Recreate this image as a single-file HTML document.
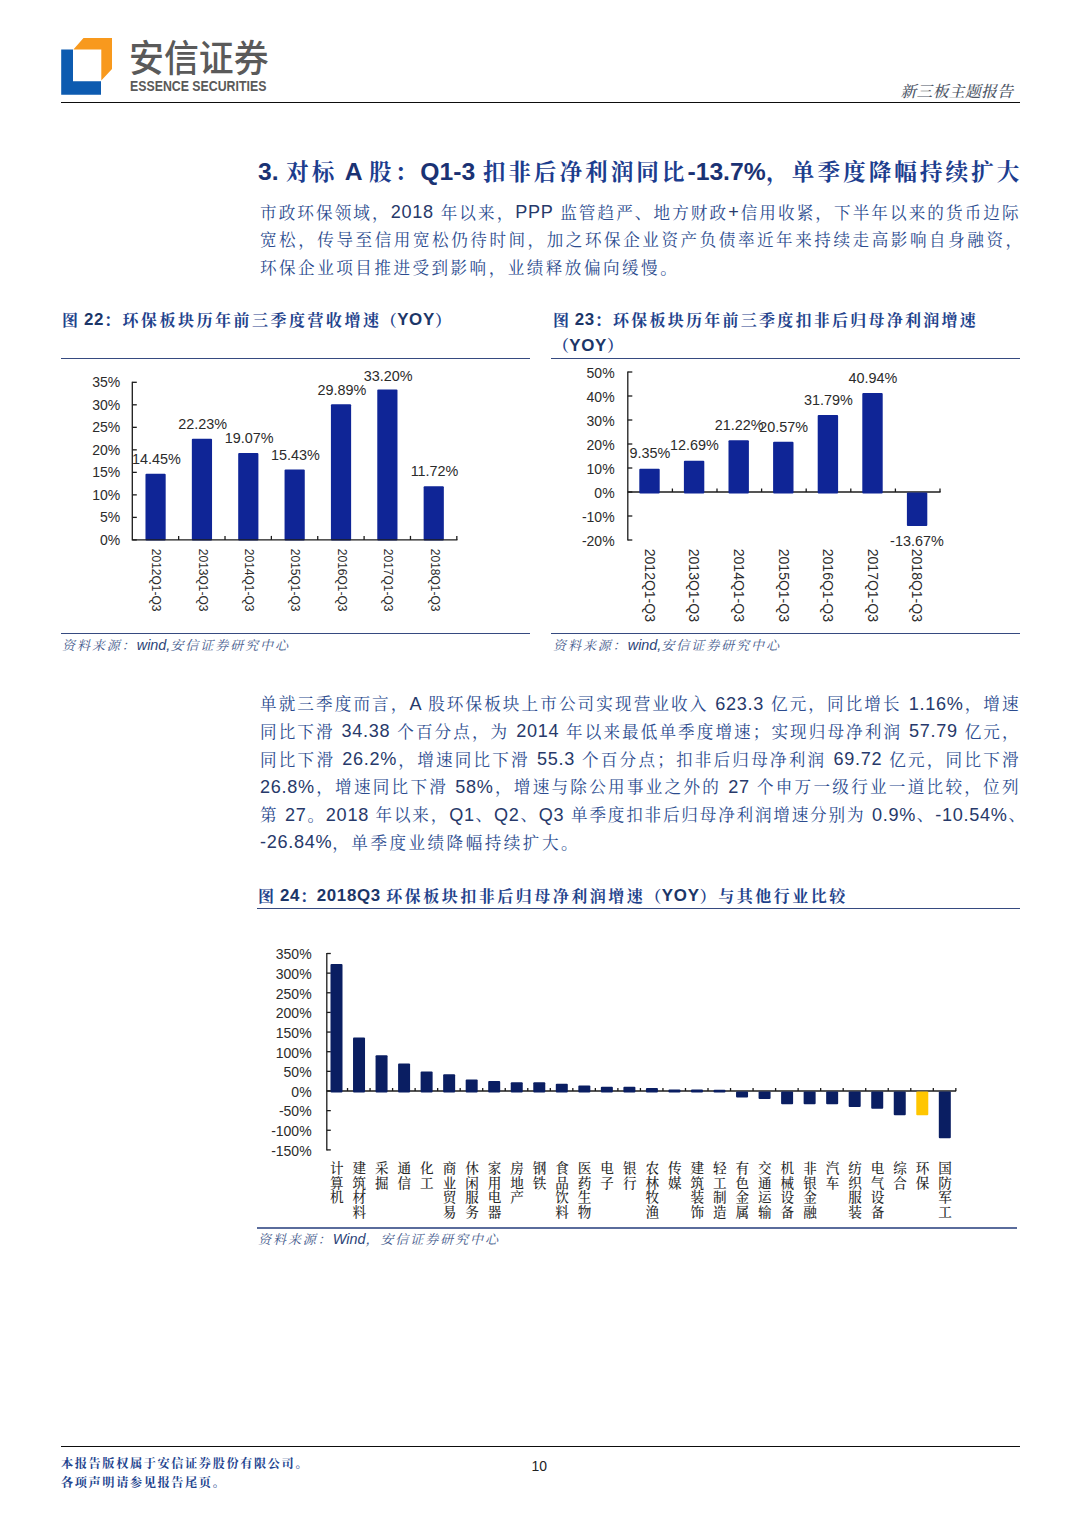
<!DOCTYPE html>
<html lang="zh-CN">
<head>
<meta charset="utf-8">
<title>新三板主题报告</title>
<style>
html,body{margin:0;padding:0;background:#fff;}
body{width:1080px;height:1527px;position:relative;overflow:hidden;-webkit-font-smoothing:antialiased;font-family:"Liberation Sans","Noto Serif CJK SC",serif;color:#2f5597;}
.abs{position:absolute;white-space:nowrap;}
.hline{position:absolute;height:1px;background:#364a80;}
.kai{font-family:"Liberation Sans","Noto Serif CJK SC",serif;}
.l{letter-spacing:0;}
/* header */
#logo{position:absolute;left:0;top:0;}
#brand-cn{left:129px;top:32px;font-size:34.9px;line-height:50px;color:#5a5a5a;font-family:"Noto Sans CJK SC",sans-serif;font-weight:500;transform-origin:0 42.5px;transform:scaleY(1.06);}
#brand-en{left:130.3px;top:76.2px;font-size:14.6px;line-height:20px;color:#5a5a5a;font-weight:700;transform-origin:0 0;transform:scaleX(0.845);}
#topline{position:absolute;left:61px;top:102px;width:959px;height:1px;background:#0d0d0d;}
#rpt{right:66.6px;top:81.6px;font-size:15.8px;letter-spacing:0.35px;line-height:20px;color:#4d5666;font-style:italic;font-weight:500;}
/* title + paragraphs */
#title{left:258px;top:155px;width:763.6px;height:34px;font-size:22.6px;letter-spacing:2.4px;line-height:34px;font-weight:700;color:#1c3d8e;text-align:justify;text-align-last:justify;}
#title .l{font-size:24.7px;position:relative;top:-0.4px;color:#1a3273;}
.para{position:absolute;left:260px;width:759.5px;font-size:16.6px;letter-spacing:0.9px;line-height:27.7px;color:#2b4b8e;font-weight:400;}
.para .l{font-size:18.1px;font-weight:400;letter-spacing:0.7px;color:#27396a;position:relative;top:-0.6px;}
.para div{text-align:justify;text-align-last:justify;white-space:nowrap;height:27.7px;}
.para div.last{text-align-last:left;letter-spacing:2.46px;}
.cap{font-size:16px;letter-spacing:2.5px;line-height:25.5px;font-weight:700;color:#1f438c;white-space:normal;}
.cap .l{font-size:16.9px;letter-spacing:0.7px;margin-left:-2px;position:relative;top:-0.8px;color:#1c3668;}
.src{font-size:13px;letter-spacing:1.95px;line-height:18px;font-style:italic;color:#445a8c;}
.src .l{font-size:14.4px;color:#2c4478;}
/* footer */
#botline{position:absolute;left:61px;top:1446px;width:959px;height:1px;background:#0d0d0d;}
#foot{left:61px;top:1454.9px;font-size:12.2px;letter-spacing:1.6px;line-height:19px;font-weight:700;color:#22438e;white-space:normal;}
#pageno{left:531.6px;top:1458.3px;font-size:13.9px;line-height:16px;color:#222;}
svg text{font-family:"Liberation Sans","Noto Sans CJK SC",sans-serif;}
svg text.song{font-family:"Liberation Serif","Noto Serif CJK SC",serif;}
</style>
</head>
<body>

<!-- ===== header ===== -->
<svg id="logo" width="130" height="110" viewBox="0 0 130 110">
  <polygon points="61.2,49.4 73,49.4 73,81.2 101,81.2 101,94.8 61.2,94.8" fill="#0d5bb0"/>
  <polygon points="83.5,38.1 112,38.1 112,68.9 101.3,80.4 101.3,49.4 73.4,49.4" fill="#f8991d"/>
</svg>
<div class="abs" id="brand-cn">安信证券</div>
<div class="abs" id="brand-en">ESSENCE SECURITIES</div>
<div class="abs kai" id="rpt">新三板主题报告</div>
<div id="topline"></div>

<!-- ===== title ===== -->
<div class="abs kai" id="title"><span class="l">3. </span>对标<span class="l"> A </span>股：<span class="l">Q1-3 </span>扣非后净利润同比<span class="l">-13.7%</span>，单季度降幅持续扩大</div>

<!-- ===== paragraph 1 ===== -->
<div class="para kai" id="p1" style="top:199.5px;">
<div>市政环保领域，<span class="l">2018 </span>年以来，<span class="l">PPP </span>监管趋严、地方财政<span class="l">+</span>信用收紧，下半年以来的货币边际</div>
<div style="width:763px;">宽松，传导至信用宽松仍待时间，加之环保企业资产负债率近年来持续走高影响自身融资，</div>
<div class="last">环保企业项目推进受到影响，业绩释放偏向缓慢。</div>
</div>

<!-- ===== fig 22 ===== -->
<div class="abs kai cap" id="cap22" style="left:62px;top:307.8px;width:470px;">图<span class="l"> 22</span>：环保板块历年前三季度营收增速<span style="margin-left:-1px;">（</span><span class="l">YOY</span>）</div>
<div class="hline" style="left:61px;top:358px;width:469px;"></div>
<svg class="abs" style="left:62px;top:360px;" width="470" height="270" viewBox="62 360 470 270">
<rect x="145.48" y="473.83" width="20.2" height="66.67" rx="1" fill="#0f2596"/>
<rect x="191.84" y="438.8" width="20.2" height="101.7" rx="1" fill="#0f2596"/>
<rect x="238.2" y="453.03" width="20.2" height="87.47" rx="1" fill="#0f2596"/>
<rect x="284.56" y="469.42" width="20.2" height="71.08" rx="1" fill="#0f2596"/>
<rect x="330.92" y="404.31" width="20.2" height="136.19" rx="1" fill="#0f2596"/>
<rect x="377.28" y="389.41" width="20.2" height="151.09" rx="1" fill="#0f2596"/>
<rect x="423.64" y="486.13" width="20.2" height="54.37" rx="1" fill="#0f2596"/>
<g stroke="#1c1c1c" stroke-width="1.3" fill="none">
<path d="M132.3 381.7 V539.9 H457.42"/>
<path d="M132.3 539.9 h4.5"/>
<path d="M132.3 517.39 h4.5"/>
<path d="M132.3 494.87 h4.5"/>
<path d="M132.3 472.36 h4.5"/>
<path d="M132.3 449.84 h4.5"/>
<path d="M132.3 427.33 h4.5"/>
<path d="M132.3 404.81 h4.5"/>
<path d="M132.3 382.3 h4.5"/>
<path d="M178.66 539.9 v-4"/>
<path d="M225.02 539.9 v-4"/>
<path d="M271.38 539.9 v-4"/>
<path d="M317.74 539.9 v-4"/>
<path d="M364.1 539.9 v-4"/>
<path d="M410.46 539.9 v-4"/>
<path d="M456.82 539.9 v-4"/>
</g>
<g font-size="14" fill="#2b2b2b" text-anchor="end">
<text x="120.3" y="544.9">0%</text>
<text x="120.3" y="522.39">5%</text>
<text x="120.3" y="499.87">10%</text>
<text x="120.3" y="477.36">15%</text>
<text x="120.3" y="454.84">20%</text>
<text x="120.3" y="432.33">25%</text>
<text x="120.3" y="409.81">30%</text>
<text x="120.3" y="387.3">35%</text>
</g>
<g font-size="14.4" fill="#2b2b2b" text-anchor="middle">
<text x="156.38" y="464.03">14.45%</text>
<text x="202.74" y="429">22.23%</text>
<text x="249.1" y="443.23">19.07%</text>
<text x="295.46" y="459.62">15.43%</text>
<text x="341.82" y="394.51">29.89%</text>
<text x="388.18" y="380.81">33.20%</text>
<text x="434.54" y="476.33">11.72%</text>
</g>
<g font-size="12" fill="#2b2b2b">
<text transform="translate(152.38 548.8) rotate(90)">2012Q1-Q3</text>
<text transform="translate(198.74 548.8) rotate(90)">2013Q1-Q3</text>
<text transform="translate(245.1 548.8) rotate(90)">2014Q1-Q3</text>
<text transform="translate(291.46 548.8) rotate(90)">2015Q1-Q3</text>
<text transform="translate(337.82 548.8) rotate(90)">2016Q1-Q3</text>
<text transform="translate(384.18 548.8) rotate(90)">2017Q1-Q3</text>
<text transform="translate(430.54 548.8) rotate(90)">2018Q1-Q3</text>
</g>
</svg>
<div class="hline" style="left:61px;top:633px;width:469px;"></div>
<div class="abs kai src" style="left:62px;top:636px;">资料来源：<span class="l">wind,</span>安信证券研究中心</div>

<!-- ===== fig 23 ===== -->
<div class="abs kai cap" id="cap23" style="left:553px;top:307.8px;width:480px;letter-spacing:2.25px;">图<span class="l"> 23</span>：环保板块历年前三季度扣非后归母净利润增速<br>（<span class="l">YOY</span>）</div>
<div class="hline" style="left:551px;top:358px;width:469px;"></div>
<svg class="abs" style="left:553px;top:360px;" width="470" height="270" viewBox="553 360 470 270">
<g stroke="#1c1c1c" stroke-width="1.3" fill="none">
<path d="M627.8 371.4 V540.6"/>
<path d="M627.8 492 H940.6"/>
<path d="M627.8 540 h4.5"/>
<path d="M627.8 516 h4.5"/>
<path d="M627.8 492 h4.5"/>
<path d="M627.8 468 h4.5"/>
<path d="M627.8 444 h4.5"/>
<path d="M627.8 420 h4.5"/>
<path d="M627.8 396 h4.5"/>
<path d="M627.8 372 h4.5"/>
<path d="M672.4 492 v-3.5"/>
<path d="M717 492 v-3.5"/>
<path d="M761.6 492 v-3.5"/>
<path d="M806.2 492 v-3.5"/>
<path d="M850.8 492 v-3.5"/>
<path d="M895.4 492 v-3.5"/>
<path d="M940 492 v-3.5"/>
</g>
<rect x="639.3" y="468.76" width="20.4" height="24.84" rx="1" fill="#0f2596"/>
<rect x="683.9" y="460.74" width="20.4" height="32.86" rx="1" fill="#0f2596"/>
<rect x="728.5" y="440.27" width="20.4" height="53.33" rx="1" fill="#0f2596"/>
<rect x="773.1" y="441.83" width="20.4" height="51.77" rx="1" fill="#0f2596"/>
<rect x="817.7" y="414.9" width="20.4" height="78.7" rx="1" fill="#0f2596"/>
<rect x="862.3" y="392.94" width="20.4" height="100.66" rx="1" fill="#0f2596"/>
<rect x="906.9" y="492.6" width="20.4" height="33.41" rx="1" fill="#0f2596"/>
<g font-size="14" fill="#2b2b2b" text-anchor="end">
<text x="614.6" y="545.9">-20%</text>
<text x="614.6" y="521.9">-10%</text>
<text x="614.6" y="497.9">0%</text>
<text x="614.6" y="473.9">10%</text>
<text x="614.6" y="449.9">20%</text>
<text x="614.6" y="425.9">30%</text>
<text x="614.6" y="401.9">40%</text>
<text x="614.6" y="377.9">50%</text>
</g>
<g font-size="14.4" fill="#2b2b2b" text-anchor="middle">
<text x="649.9" y="458.46">9.35%</text>
<text x="694.5" y="450.44">12.69%</text>
<text x="739.1" y="429.97">21.22%</text>
<text x="783.7" y="431.53">20.57%</text>
<text x="828.3" y="404.6">31.79%</text>
<text x="872.9" y="382.64">40.94%</text>
<text x="916.9" y="545.8">-13.67%</text>
</g>
<g font-size="14" fill="#2b2b2b">
<text transform="translate(644.8 548.8) rotate(90)">2012Q1-Q3</text>
<text transform="translate(689.4 548.8) rotate(90)">2013Q1-Q3</text>
<text transform="translate(734 548.8) rotate(90)">2014Q1-Q3</text>
<text transform="translate(778.6 548.8) rotate(90)">2015Q1-Q3</text>
<text transform="translate(823.2 548.8) rotate(90)">2016Q1-Q3</text>
<text transform="translate(867.8 548.8) rotate(90)">2017Q1-Q3</text>
<text transform="translate(912.4 548.8) rotate(90)">2018Q1-Q3</text>
</g>
</svg>
<div class="hline" style="left:551px;top:633px;width:469px;"></div>
<div class="abs kai src" style="left:553px;top:636px;">资料来源：<span class="l">wind,</span>安信证券研究中心</div>

<!-- ===== paragraph 2 ===== -->
<div class="para kai" id="p2" style="top:691.4px;">
<div>单就三季度而言，<span class="l">A </span>股环保板块上市公司实现营业收入<span class="l"> 623.3 </span>亿元，同比增长<span class="l"> 1.16%</span>，增速</div>
<div>同比下滑<span class="l"> 34.38 </span>个百分点，为<span class="l"> 2014 </span>年以来最低单季度增速；实现归母净利润<span class="l"> 57.79 </span>亿元，</div>
<div>同比下滑<span class="l"> 26.2%</span>，增速同比下滑<span class="l"> 55.3 </span>个百分点；扣非后归母净利润<span class="l"> 69.72 </span>亿元，同比下滑</div>
<div><span class="l">26.8%</span>，增速同比下滑<span class="l"> 58%</span>，增速与除公用事业之外的<span class="l"> 27 </span>个申万一级行业一道比较，位列</div>
<div style="width:766px;">第<span class="l"> 27</span>。<span class="l">2018 </span>年以来，<span class="l">Q1</span>、<span class="l">Q2</span>、<span class="l">Q3 </span>单季度扣非后归母净利润增速分别为<span class="l"> 0.9%</span>、<span class="l">-10.54%</span>、</div>
<div class="last"><span class="l">-26.84%</span>，单季度业绩降幅持续扩大。</div>
</div>

<!-- ===== fig 24 ===== -->
<div class="abs kai cap" id="cap24" style="left:258px;top:883.8px;width:760px;">图<span class="l"> 24</span>：<span class="l">2018Q3 </span>环保板块扣非后归母净利润增速<span style="margin-left:0px;">（</span><span class="l">YOY</span>）与其他行业比较</div>
<div class="hline" style="left:257px;top:908px;width:763px;"></div>
<svg class="abs" style="left:258px;top:940px;" width="762" height="284" viewBox="258 940 762 284">
<g stroke="#1c1c1c" stroke-width="1.3" fill="none">
<path d="M326.8 952.9 V1150.5"/>
<path d="M326.8 1090.98 H956.14"/>
<path d="M326.8 1149.9 h4"/>
<path d="M326.8 1130.26 h4"/>
<path d="M326.8 1110.62 h4"/>
<path d="M326.8 1090.98 h4"/>
<path d="M326.8 1071.34 h4"/>
<path d="M326.8 1051.7 h4"/>
<path d="M326.8 1032.06 h4"/>
<path d="M326.8 1012.42 h4"/>
<path d="M326.8 992.78 h4"/>
<path d="M326.8 973.14 h4"/>
<path d="M326.8 953.5 h4"/>
<path d="M347.53 1090.98 v-3"/>
<path d="M370.06 1090.98 v-3"/>
<path d="M392.59 1090.98 v-3"/>
<path d="M415.12 1090.98 v-3"/>
<path d="M437.65 1090.98 v-3"/>
<path d="M460.18 1090.98 v-3"/>
<path d="M482.71 1090.98 v-3"/>
<path d="M505.24 1090.98 v-3"/>
<path d="M527.77 1090.98 v-3"/>
<path d="M550.3 1090.98 v-3"/>
<path d="M572.83 1090.98 v-3"/>
<path d="M595.36 1090.98 v-3"/>
<path d="M617.89 1090.98 v-3"/>
<path d="M640.42 1090.98 v-3"/>
<path d="M662.95 1090.98 v-3"/>
<path d="M685.48 1090.98 v-3"/>
<path d="M708.01 1090.98 v-3"/>
<path d="M730.54 1090.98 v-3"/>
<path d="M753.07 1090.98 v-3"/>
<path d="M775.6 1090.98 v-3"/>
<path d="M798.13 1090.98 v-3"/>
<path d="M820.66 1090.98 v-3"/>
<path d="M843.19 1090.98 v-3"/>
<path d="M865.72 1090.98 v-3"/>
<path d="M888.25 1090.98 v-3"/>
<path d="M910.78 1090.98 v-3"/>
<path d="M933.31 1090.98 v-3"/>
<path d="M955.84 1090.98 v-3"/>
</g>
<rect x="330.5" y="964.11" width="12" height="128.47" rx="1" fill="#0a1e62"/>
<rect x="353.03" y="1037.56" width="12" height="55.02" rx="1" fill="#0a1e62"/>
<rect x="375.56" y="1055.24" width="12" height="37.34" rx="1" fill="#0a1e62"/>
<rect x="398.09" y="1063.48" width="12" height="29.1" rx="1" fill="#0a1e62"/>
<rect x="420.62" y="1071.54" width="12" height="21.04" rx="1" fill="#0a1e62"/>
<rect x="443.15" y="1074.29" width="12" height="18.29" rx="1" fill="#0a1e62"/>
<rect x="465.68" y="1079.59" width="12" height="12.99" rx="1" fill="#0a1e62"/>
<rect x="488.21" y="1080.96" width="12" height="11.62" rx="1" fill="#0a1e62"/>
<rect x="510.74" y="1082.34" width="12" height="10.24" rx="1" fill="#0a1e62"/>
<rect x="533.27" y="1082.34" width="12" height="10.24" rx="1" fill="#0a1e62"/>
<rect x="555.8" y="1083.79" width="12" height="8.79" rx="1" fill="#0a1e62"/>
<rect x="578.33" y="1085.48" width="12" height="7.1" rx="1" fill="#0a1e62"/>
<rect x="600.86" y="1086.66" width="12" height="5.92" rx="1" fill="#0a1e62"/>
<rect x="623.39" y="1086.66" width="12" height="5.92" rx="1" fill="#0a1e62"/>
<rect x="645.92" y="1088.03" width="12" height="4.55" rx="1" fill="#0a1e62"/>
<rect x="668.45" y="1089.41" width="12" height="3.17" rx="1" fill="#0a1e62"/>
<rect x="690.98" y="1089.41" width="12" height="3.17" rx="1" fill="#0a1e62"/>
<rect x="713.51" y="1089.68" width="12" height="2.9" rx="1" fill="#0a1e62"/>
<rect x="736.04" y="1091.58" width="12" height="5.88" rx="1" fill="#0a1e62"/>
<rect x="758.57" y="1091.58" width="12" height="7.45" rx="1" fill="#0a1e62"/>
<rect x="781.1" y="1091.58" width="12" height="12.56" rx="1" fill="#0a1e62"/>
<rect x="803.63" y="1091.58" width="12" height="12.56" rx="1" fill="#0a1e62"/>
<rect x="826.16" y="1091.58" width="12" height="12.56" rx="1" fill="#0a1e62"/>
<rect x="848.69" y="1091.58" width="12" height="15.5" rx="1" fill="#0a1e62"/>
<rect x="871.22" y="1091.58" width="12" height="17.08" rx="1" fill="#0a1e62"/>
<rect x="893.75" y="1091.58" width="12" height="23.56" rx="1" fill="#0a1e62"/>
<rect x="916.28" y="1091.58" width="12" height="23.56" rx="1" fill="#ffc600"/>
<rect x="938.81" y="1091.58" width="12" height="46.73" rx="1" fill="#0a1e62"/>
<g font-size="14" fill="#2b2b2b" text-anchor="end">
<text x="311.6" y="1155.7">-150%</text>
<text x="311.6" y="1136.06">-100%</text>
<text x="311.6" y="1116.42">-50%</text>
<text x="311.6" y="1096.78">0%</text>
<text x="311.6" y="1077.14">50%</text>
<text x="311.6" y="1057.5">100%</text>
<text x="311.6" y="1037.86">150%</text>
<text x="311.6" y="1018.22">200%</text>
<text x="311.6" y="998.58">250%</text>
<text x="311.6" y="978.94">300%</text>
<text x="311.6" y="959.3">350%</text>
</g>
<g font-size="13.6" fill="#262626" font-weight="500" text-anchor="middle">
<text class="song"><tspan x="336.8" y="1173.2">计</tspan><tspan x="336.8" y="1187.65">算</tspan><tspan x="336.8" y="1202.1">机</tspan></text>
<text class="song"><tspan x="359.33" y="1173.2">建</tspan><tspan x="359.33" y="1187.65">筑</tspan><tspan x="359.33" y="1202.1">材</tspan><tspan x="359.33" y="1216.55">料</tspan></text>
<text class="song"><tspan x="381.86" y="1173.2">采</tspan><tspan x="381.86" y="1187.65">掘</tspan></text>
<text class="song"><tspan x="404.39" y="1173.2">通</tspan><tspan x="404.39" y="1187.65">信</tspan></text>
<text class="song"><tspan x="426.92" y="1173.2">化</tspan><tspan x="426.92" y="1187.65">工</tspan></text>
<text class="song"><tspan x="449.45" y="1173.2">商</tspan><tspan x="449.45" y="1187.65">业</tspan><tspan x="449.45" y="1202.1">贸</tspan><tspan x="449.45" y="1216.55">易</tspan></text>
<text class="song"><tspan x="471.98" y="1173.2">休</tspan><tspan x="471.98" y="1187.65">闲</tspan><tspan x="471.98" y="1202.1">服</tspan><tspan x="471.98" y="1216.55">务</tspan></text>
<text class="song"><tspan x="494.51" y="1173.2">家</tspan><tspan x="494.51" y="1187.65">用</tspan><tspan x="494.51" y="1202.1">电</tspan><tspan x="494.51" y="1216.55">器</tspan></text>
<text class="song"><tspan x="517.04" y="1173.2">房</tspan><tspan x="517.04" y="1187.65">地</tspan><tspan x="517.04" y="1202.1">产</tspan></text>
<text class="song"><tspan x="539.57" y="1173.2">钢</tspan><tspan x="539.57" y="1187.65">铁</tspan></text>
<text class="song"><tspan x="562.1" y="1173.2">食</tspan><tspan x="562.1" y="1187.65">品</tspan><tspan x="562.1" y="1202.1">饮</tspan><tspan x="562.1" y="1216.55">料</tspan></text>
<text class="song"><tspan x="584.63" y="1173.2">医</tspan><tspan x="584.63" y="1187.65">药</tspan><tspan x="584.63" y="1202.1">生</tspan><tspan x="584.63" y="1216.55">物</tspan></text>
<text class="song"><tspan x="607.16" y="1173.2">电</tspan><tspan x="607.16" y="1187.65">子</tspan></text>
<text class="song"><tspan x="629.69" y="1173.2">银</tspan><tspan x="629.69" y="1187.65">行</tspan></text>
<text class="song"><tspan x="652.22" y="1173.2">农</tspan><tspan x="652.22" y="1187.65">林</tspan><tspan x="652.22" y="1202.1">牧</tspan><tspan x="652.22" y="1216.55">渔</tspan></text>
<text class="song"><tspan x="674.75" y="1173.2">传</tspan><tspan x="674.75" y="1187.65">媒</tspan></text>
<text class="song"><tspan x="697.28" y="1173.2">建</tspan><tspan x="697.28" y="1187.65">筑</tspan><tspan x="697.28" y="1202.1">装</tspan><tspan x="697.28" y="1216.55">饰</tspan></text>
<text class="song"><tspan x="719.81" y="1173.2">轻</tspan><tspan x="719.81" y="1187.65">工</tspan><tspan x="719.81" y="1202.1">制</tspan><tspan x="719.81" y="1216.55">造</tspan></text>
<text class="song"><tspan x="742.34" y="1173.2">有</tspan><tspan x="742.34" y="1187.65">色</tspan><tspan x="742.34" y="1202.1">金</tspan><tspan x="742.34" y="1216.55">属</tspan></text>
<text class="song"><tspan x="764.87" y="1173.2">交</tspan><tspan x="764.87" y="1187.65">通</tspan><tspan x="764.87" y="1202.1">运</tspan><tspan x="764.87" y="1216.55">输</tspan></text>
<text class="song"><tspan x="787.4" y="1173.2">机</tspan><tspan x="787.4" y="1187.65">械</tspan><tspan x="787.4" y="1202.1">设</tspan><tspan x="787.4" y="1216.55">备</tspan></text>
<text class="song"><tspan x="809.93" y="1173.2">非</tspan><tspan x="809.93" y="1187.65">银</tspan><tspan x="809.93" y="1202.1">金</tspan><tspan x="809.93" y="1216.55">融</tspan></text>
<text class="song"><tspan x="832.46" y="1173.2">汽</tspan><tspan x="832.46" y="1187.65">车</tspan></text>
<text class="song"><tspan x="854.99" y="1173.2">纺</tspan><tspan x="854.99" y="1187.65">织</tspan><tspan x="854.99" y="1202.1">服</tspan><tspan x="854.99" y="1216.55">装</tspan></text>
<text class="song"><tspan x="877.52" y="1173.2">电</tspan><tspan x="877.52" y="1187.65">气</tspan><tspan x="877.52" y="1202.1">设</tspan><tspan x="877.52" y="1216.55">备</tspan></text>
<text class="song"><tspan x="900.05" y="1173.2">综</tspan><tspan x="900.05" y="1187.65">合</tspan></text>
<text class="song"><tspan x="922.58" y="1173.2">环</tspan><tspan x="922.58" y="1187.65">保</tspan></text>
<text class="song"><tspan x="945.11" y="1173.2">国</tspan><tspan x="945.11" y="1187.65">防</tspan><tspan x="945.11" y="1202.1">军</tspan><tspan x="945.11" y="1216.55">工</tspan></text>
</g>
</svg>
<div class="hline" style="left:257px;top:1227px;width:760px;height:2px;background:#5a6c9c;"></div>
<div class="abs kai src" style="left:258px;top:1229.9px;">资料来源：<span class="l">Wind</span>，安信证券研究中心</div>

<!-- ===== footer ===== -->
<div id="botline"></div>
<div class="abs kai" id="foot">本报告版权属于安信证券股份有限公司。<br>各项声明请参见报告尾页。</div>
<div class="abs" id="pageno">10</div>

</body>
</html>
